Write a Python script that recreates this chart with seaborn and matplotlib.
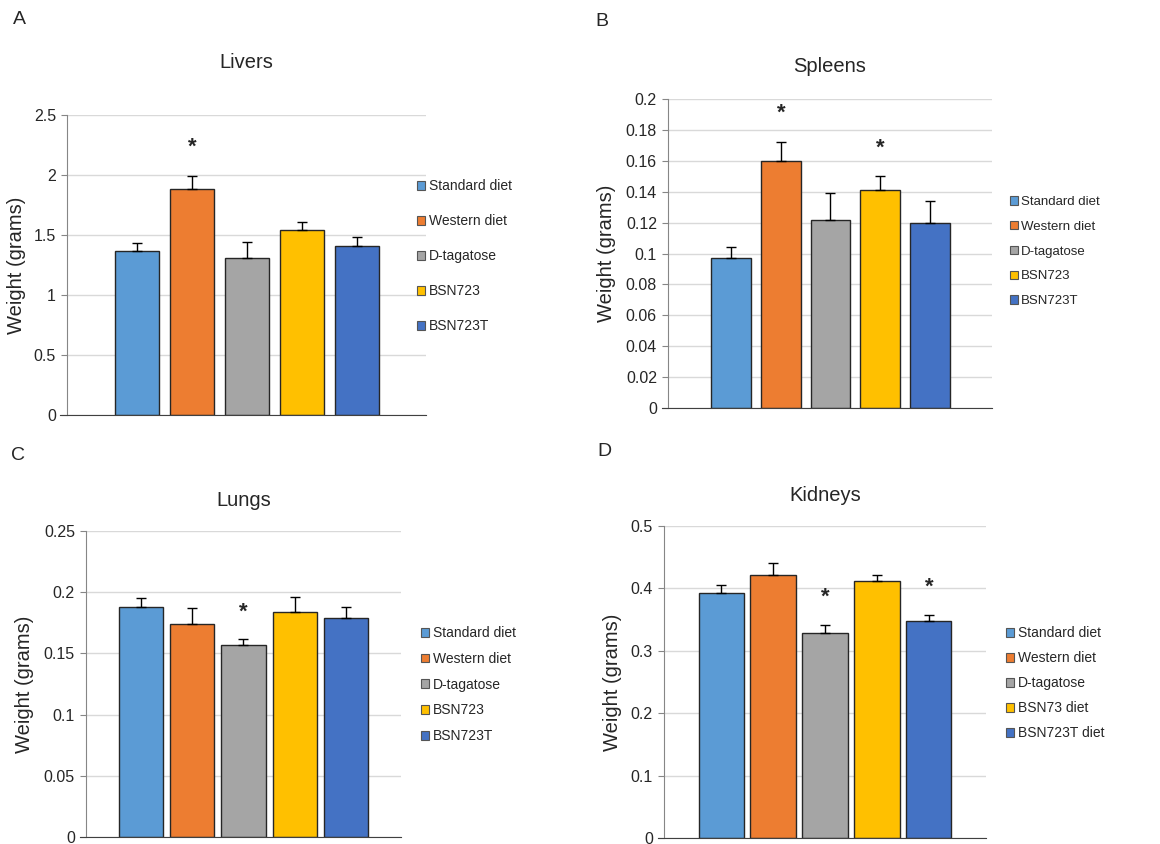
import numpy as np
import pandas as pd
import seaborn as sns
import matplotlib.pyplot as plt
from matplotlib.patches import Patch

# data
groups = ['Standard diet', 'Western diet', 'D-tagatose', 'BSN723', 'BSN723T']
groups_kidney = ['Standard diet', 'Western diet', 'D-tagatose', 'BSN73 diet', 'BSN723T diet']
colors = ['#5B9BD5', '#ED7D31', '#A5A5A5', '#FFC000', '#4472C4']

liver_mean = [1.37, 1.88, 1.31, 1.54, 1.41]
liver_err = [0.06, 0.11, 0.13, 0.07, 0.07]
liver_stars = [(1, 2.23)]

spleen_mean = [0.097, 0.160, 0.122, 0.141, 0.120]
spleen_err = [0.007, 0.012, 0.017, 0.009, 0.014]
spleen_stars = [(1, 0.191), (3, 0.168)]

lung_mean = [0.188, 0.174, 0.157, 0.184, 0.179]
lung_err = [0.007, 0.013, 0.005, 0.012, 0.009]
lung_stars = [(2, 0.184)]

kidney_mean = [0.392, 0.421, 0.328, 0.412, 0.347]
kidney_err = [0.014, 0.019, 0.013, 0.009, 0.010]
kidney_stars = [(2, 0.386), (4, 0.402)]

sns.set_style('white')
plt.rcParams['font.family'] = ['Liberation Sans', 'DejaVu Sans']

W, H = 1160, 844
fig = plt.figure(figsize=(W / 100, H / 100), dpi=100)


def px_axes(left, top, right, bottom):
    return fig.add_axes([left / W, 1 - bottom / H, (right - left) / W, (bottom - top) / H])


def panel(box, labels, means, errs, stars, ymax, step, xlim, width, title, title_y,
          letter, letter_xy, ylab_x, leg_xy, leg_space, legsize):
    ax = px_axes(*box)
    df = pd.DataFrame({'group': labels, 'weight': means})
    sns.barplot(data=df, x='group', y='weight', hue='group', order=labels,
                palette=colors, saturation=1, width=width, edgecolor='#262626',
                linewidth=1, legend=False, ax=ax)
    ax.errorbar(np.arange(len(labels)), means, yerr=[np.zeros(len(errs)), errs],
                fmt='none', ecolor='black', elinewidth=1, capsize=3.5, capthick=1)
    for i, y in stars:
        ax.text(i, y, '*', ha='center', va='center', fontsize=16, fontweight='bold')
    ax.set_xlim(*xlim)
    ax.set_ylim(0, ymax)
    ticks = np.round(np.arange(0, ymax + step / 2, step), 3)
    ax.set_yticks(ticks)
    ax.set_yticklabels([f'{t:g}' for t in ticks], fontsize=11.5)
    ax.set_xticks([])
    ax.set_xlabel('')
    ax.set_ylabel('')
    ax.yaxis.grid(True, color='#D9D9D9', linewidth=1)
    ax.set_axisbelow(True)
    sns.despine(ax=ax)
    ax.spines['left'].set_color('#868686')
    ax.spines['bottom'].set_color('#404040')
    ax.spines['bottom'].set_bounds(xlim[0] - 0.12, xlim[1])
    ax.spines['bottom'].set_clip_on(False)
    ax.tick_params(axis='y', direction='out', length=4, color='#868686', pad=4)
    ax.yaxis.set_ticks_position('left')

    fig.text(((box[0] + box[2]) / 2) / W, 1 - title_y / H, title, ha='center', va='center',
             fontsize=14.5)
    fig.text(letter_xy[0] / W, 1 - letter_xy[1] / H, letter, ha='center', va='center',
             fontsize=14)
    fig.text(ylab_x / W, 1 - ((box[1] + box[3]) / 2) / H, 'Weight (grams)', rotation=90,
             ha='center', va='center', fontsize=14.5)

    handles = [Patch(facecolor=c, edgecolor='#555555', linewidth=0.8) for c in colors]
    ax.legend(handles, labels, loc='upper left', frameon=False,
              bbox_to_anchor=(leg_xy[0] / W, 1 - leg_xy[1] / H), bbox_transform=fig.transFigure,
              fontsize=legsize, handlelength=0.6, handleheight=0.6, handletextpad=0.25,
              labelspacing=leg_space, borderpad=0, borderaxespad=0)
    return ax


panel((67, 115, 426, 415), groups, liver_mean, liver_err, liver_stars, 2.5, 0.5,
      (-1.27, 5.25), 0.8, 'Livers', 63, 'A', (19, 20), 17, (417, 179), 1.52, 10)
panel((668, 99, 992, 408), groups, spleen_mean, spleen_err, spleen_stars, 0.2, 0.02,
      (-1.27, 5.25), 0.8, 'Spleens', 66, 'B', (602, 22), 606, (1010, 196), 0.97, 9.5)
panel((86, 531, 401, 837), groups, lung_mean, lung_err, lung_stars, 0.25, 0.05,
      (-1.07, 5.07), 0.86, 'Lungs', 500, 'C', (18, 455), 25, (421, 626), 0.85, 10)
panel((664, 526, 986, 838), groups_kidney, kidney_mean, kidney_err, kidney_stars, 0.5, 0.1,
      (-1.1, 5.1), 0.87, 'Kidneys', 496, 'D', (604, 452), 612, (1006, 626), 0.8, 10)

fig.savefig('out.png', dpi=100)
